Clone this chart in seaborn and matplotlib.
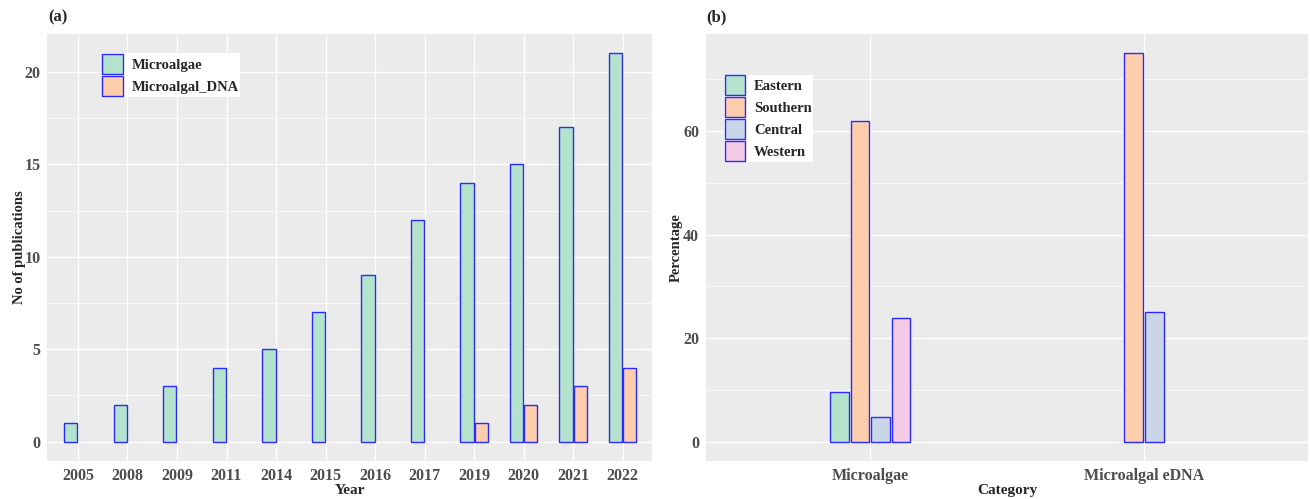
import pandas as pd
import matplotlib
matplotlib.use("Agg")
import matplotlib.pyplot as plt
import seaborn as sns
from matplotlib.patches import Patch
from matplotlib.ticker import MultipleLocator

# panel (a): publications per year
years = ["2005", "2008", "2009", "2011", "2014", "2015", "2016", "2017",
         "2019", "2020", "2021", "2022"]
microalgae = [1, 2, 3, 4, 5, 7, 9, 12, 14, 15, 17, 21]
dna_years = ["2019", "2020", "2021", "2022"]
microalgal_dna = [1, 2, 3, 4]

# panel (b): percentage by region
categories = ["Microalgae", "Microalgal eDNA"]
regions = ["Eastern", "Southern", "Central", "Western"]
pct_microalgae = [9.5, 61.9, 4.8, 23.8]
pct_edna_regions = ["Southern", "Central"]
pct_edna = [75.0, 25.0]

types = ["Microalgae", "Microalgal_DNA"]
colors = ["#B3E2CD", "#FDCDAC", "#CBD5E8", "#F4CAE4"]
edge = "#2B2BFF"

df_a = pd.DataFrame({
    "Year": years + dna_years,
    "Type": ["Microalgae"] * len(years) + ["Microalgal_DNA"] * len(dna_years),
    "Count": microalgae + microalgal_dna,
})
df_b = pd.DataFrame({
    "Category": [categories[0]] * len(regions) + [categories[1]] * len(pct_edna_regions),
    "Region": regions + pct_edna_regions,
    "Percentage": pct_microalgae + pct_edna,
})

sns.set_theme(style="darkgrid", rc={
    "axes.facecolor": "#EBEBEB",
    "grid.color": "white",
    "axes.edgecolor": "#EBEBEB",
})
plt.rcParams["font.family"] = ["Liberation Serif", "DejaVu Serif"]
plt.rcParams["font.weight"] = "bold"

fig = plt.figure(figsize=(13.1, 4.99), dpi=100)
ax1 = fig.add_axes([0.0361, 0.076, 0.4618, 0.856])
ax2 = fig.add_axes([0.539, 0.076, 0.4595, 0.856])

sns.barplot(data=df_a, x="Year", y="Count", hue="Type", order=years,
            hue_order=types, palette=colors[:2], width=0.58, gap=0.07,
            edgecolor=edge, linewidth=1.0, saturation=1, ax=ax1)
sns.barplot(data=df_b, x="Category", y="Percentage", hue="Region",
            order=categories, hue_order=regions, palette=colors,
            width=0.30, gap=0.08, edgecolor=edge, linewidth=1.0,
            saturation=1, ax=ax2)

ax1.set_xlim(-0.62, 11.6)
ax1.set_ylim(-1.05, 22.05)
ax1.yaxis.set_major_locator(MultipleLocator(5))
ax1.yaxis.set_minor_locator(MultipleLocator(2.5))
ax1.set_xlabel("Year", fontsize=11, fontweight="bold", labelpad=0)
ax1.set_ylabel("No of publications", fontsize=10.5, fontweight="bold", labelpad=-1)

ax2.set_xlim(-0.6, 1.6)
ax2.set_ylim(-3.75, 78.75)
ax2.yaxis.set_major_locator(MultipleLocator(20))
ax2.yaxis.set_minor_locator(MultipleLocator(10))
ax2.set_xlabel("Category", fontsize=11, fontweight="bold", labelpad=0)
ax2.set_ylabel("Percentage", fontsize=10.5, fontweight="bold", labelpad=0)

for ax in (ax1, ax2):
    ax.grid(which="major", color="white", linewidth=1.0)
    ax.grid(which="minor", color="white", linewidth=0.5)
    ax.set_axisbelow(True)
    for s in ax.spines.values():
        s.set_visible(False)
    ax.tick_params(axis="both", which="major", length=3, width=0.8,
                   color="#333333", labelcolor="#4D4D4D", labelsize=11.5, pad=2)
    ax.tick_params(axis="both", which="minor", length=0)
    for lab in ax.get_xticklabels() + ax.get_yticklabels():
        lab.set_fontweight("bold")
    ax.get_legend().remove()

legend_kw = dict(loc="upper left", frameon=True, fancybox=False, framealpha=1,
                 edgecolor="white", facecolor="white",
                 prop={"weight": "bold", "size": 10.5},
                 handlelength=1.4, handleheight=1.75, handletextpad=0.6,
                 labelspacing=0.12, borderpad=0.05, borderaxespad=0)

h1 = [Patch(facecolor=colors[i], edgecolor=edge, linewidth=1.0) for i in range(2)]
leg1 = ax1.legend(h1, types, bbox_to_anchor=(0.09, 0.955), **legend_kw)
leg1.get_frame().set_linewidth(0)

h2 = [Patch(facecolor=c, edgecolor=edge, linewidth=1.0) for c in colors]
leg2 = ax2.legend(h2, regions, bbox_to_anchor=(0.03, 0.905), **legend_kw)
leg2.get_frame().set_linewidth(0)

fig.text(0.0366, 0.965, "(a)", fontsize=12, fontweight="bold", va="center")
fig.text(0.539, 0.965, "(b)", fontsize=12, fontweight="bold", va="center")

fig.savefig("out.png", dpi=100)
